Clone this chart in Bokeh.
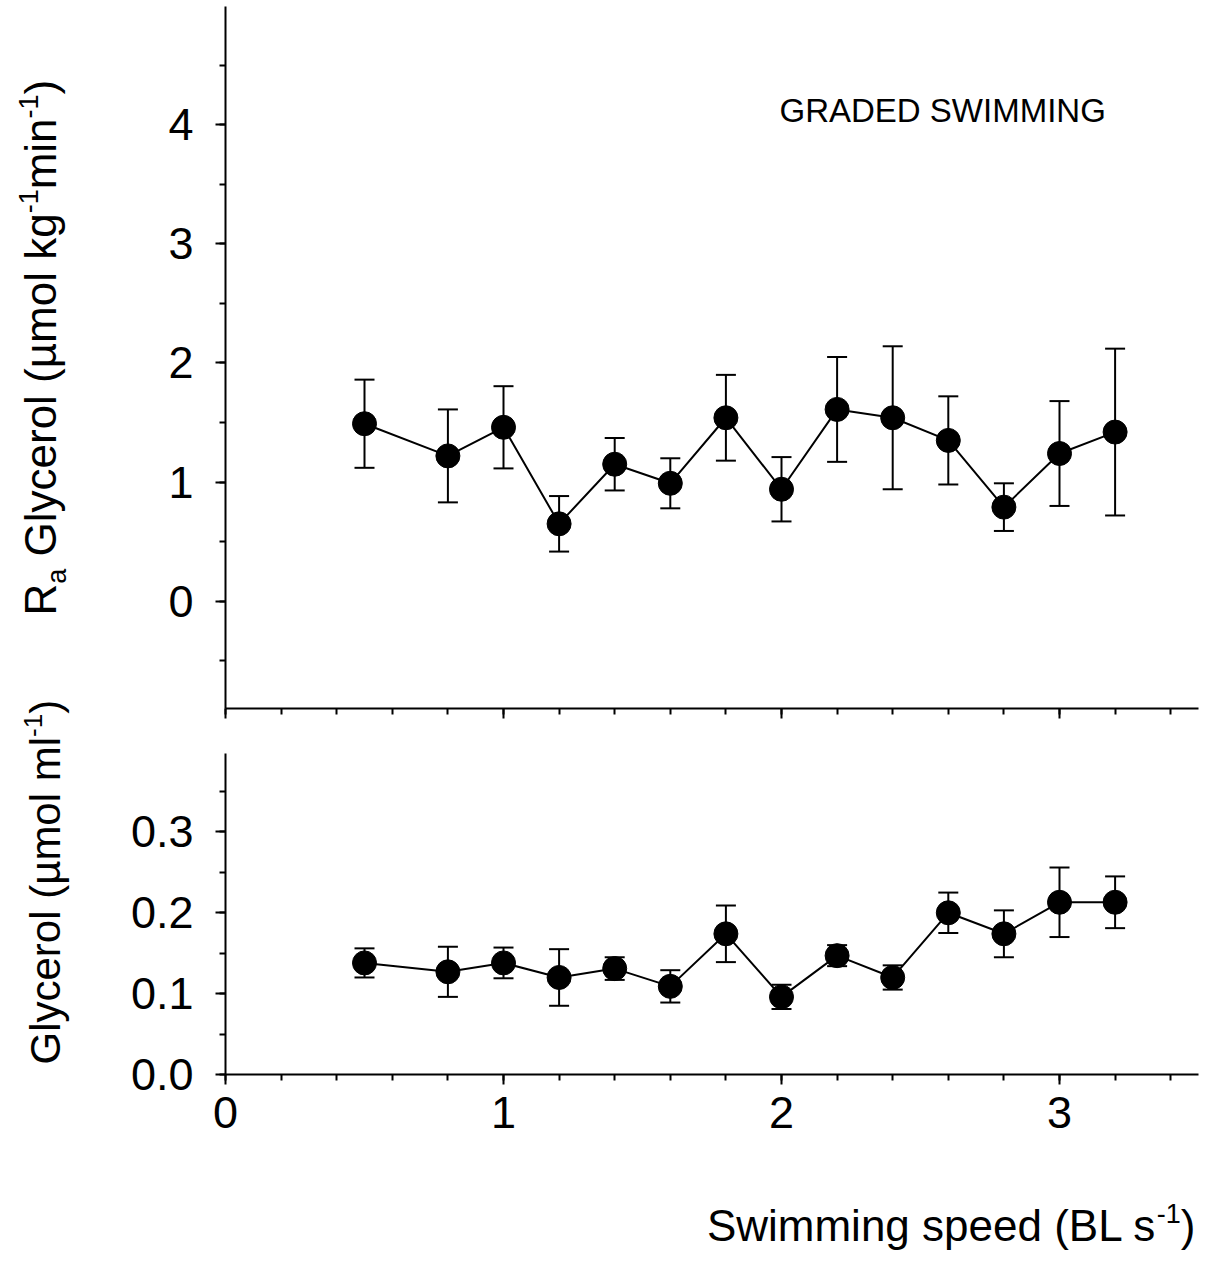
import numpy as np
from bokeh.plotting import figure
from bokeh.models import (Range1d, LinearAxis, SingleIntervalTicker, Whisker, TeeHead,
                          ColumnDataSource, Label, PrintfTickFormatter, CustomJSTickFormatter)
from bokeh.embed import file_html
from bokeh.resources import INLINE

# ---------------- data ----------------
speed = [0.5, 0.8, 1.0, 1.2, 1.4, 1.6, 1.8, 2.0, 2.2, 2.4, 2.6, 2.8, 3.0, 3.2]
ra_mean = [1.49, 1.22, 1.46, 0.65, 1.15, 0.99, 1.54, 0.94, 1.61, 1.54, 1.35, 0.79, 1.24, 1.42]
ra_sem = [0.37, 0.39, 0.345, 0.233, 0.22, 0.21, 0.36, 0.27, 0.44, 0.60, 0.37, 0.20, 0.44, 0.70]
gly_mean = [0.138, 0.127, 0.138, 0.120, 0.131, 0.109, 0.174, 0.096, 0.147, 0.120, 0.200, 0.174, 0.213, 0.213]
gly_sem = [0.018, 0.031, 0.019, 0.035, 0.014, 0.020, 0.035, 0.015, 0.013, 0.015, 0.025, 0.029, 0.043, 0.032]

title_text = "GRADED SWIMMING"
x_title = [("Swimming speed (BL s", "n"), ("-1", "sup"), (")", "n")]
top_ylabel = [("R", "n"), ("a", "sub"), (" ", "gap"), ("Glycerol (\u00b5mol kg", "n"), ("-1", "sup"),
              ("min", "n"), ("-1", "sup"), (")", "n")]
bot_ylabel = [("Glycerol (\u00b5mol ml", "n"), ("-1", "sup"), (")", "n")]

# ---------------- geometry (page pixels) ----------------
W, H = 1206, 1261
AX_L, AX_R = 225, 1198                        # x axis extent
X0, X1 = 0.0, 3.5
TOP_LO, TOP_HI = -0.9, 5.0                    # top panel value span
TOP_PT, TOP_PB = 5, 708
BOT_LO, BOT_HI = 0.0, 0.397                   # bottom panel value span
BOT_PT, BOT_PB = 753, 1074

xs = (AX_R - AX_L) / (X1 - X0)
XR0 = X0 - AX_L / xs
XR1 = X1 + (W - AX_R) / xs
ts = (TOP_PB - TOP_PT) / (TOP_HI - TOP_LO)
YR1 = TOP_HI + TOP_PT / ts
YR0 = TOP_HI - (H - TOP_PT) / ts
bs = (BOT_PB - BOT_PT) / (BOT_HI - BOT_LO)
GR0 = BOT_LO - (H - BOT_PB) / bs
GR1 = BOT_LO + BOT_PB / bs

FONT = "Liberation Sans"
F = 45        # tick label size
BLS = 0.4     # baseline correction (fraction of font size)

def px2x(px):
    return XR0 + px / xs

def py2y(py):
    return YR1 - py / ts

AW = {"R": 722, "a": 556, " ": 278, "G": 778, "l": 222, "y": 500, "c": 500, "e": 556, "r": 333,
      "o": 556, "(": 333, ")": 333, "\u00b5": 576, "m": 833, "k": 500, "g": 556, "i": 222,
      "n": 556, "-": 333, "1": 556, "S": 667, "w": 722, "p": 556, "d": 556, "B": 667, "L": 556,
      "s": 500}

def tw(t, size):
    return sum(AW.get(c, 556) for c in t) / 1000.0 * size

p = figure(width=W, height=H, x_range=Range1d(XR0, XR1), y_range=Range1d(YR0, YR1),
           x_axis_type=None, y_axis_type=None, output_backend="svg", toolbar_location=None,
           min_border=0)
p.extra_y_ranges = {"gly": Range1d(GR0, GR1)}
p.outline_line_color = None
p.background_fill_color = "white"
p.border_fill_color = "white"

def style(ax, standoff):
    ax.axis_line_width = 2
    ax.axis_line_color = "black"
    ax.major_tick_line_width = 2
    ax.minor_tick_line_width = 2
    ax.major_tick_line_color = "black"
    ax.minor_tick_line_color = "black"
    ax.major_tick_in = 0
    ax.minor_tick_in = 0
    ax.major_tick_out = 10
    ax.minor_tick_out = 6
    ax.major_label_text_font = FONT
    ax.major_label_text_font_size = f"{F}px"
    ax.major_label_text_color = "black"
    ax.major_label_standoff = standoff

ay_top = LinearAxis(bounds=(TOP_LO, TOP_HI - 0.01), fixed_location=X0,
                    ticker=SingleIntervalTicker(interval=1, num_minor_ticks=2))
style(ay_top, 22)
p.add_layout(ay_top, "left")

ay_bot = LinearAxis(y_range_name="gly", bounds=(BOT_LO, BOT_HI), fixed_location=X0,
                    ticker=SingleIntervalTicker(interval=0.1, num_minor_ticks=2),
                    formatter=PrintfTickFormatter(format="%.1f"))
style(ay_bot, 22)
p.add_layout(ay_bot, "left")

ax_bot = LinearAxis(y_range_name="gly", bounds=(X0, X1), fixed_location=BOT_LO,
                    ticker=SingleIntervalTicker(interval=1, num_minor_ticks=5))
style(ax_bot, 12)
p.add_layout(ax_bot, "below")

ax_top = LinearAxis(bounds=(X0, X1), fixed_location=TOP_LO,
                    ticker=SingleIntervalTicker(interval=1, num_minor_ticks=5),
                    formatter=CustomJSTickFormatter(code="return ''"))
style(ax_top, 0)
p.add_layout(ax_top, "below")

# ---------------- data marks ----------------
ra = np.array(ra_mean); ras = np.array(ra_sem)
gl = np.array(gly_mean); gls = np.array(gly_sem)
src_ra = ColumnDataSource(dict(x=speed, y=ra, upper=ra + ras, lower=ra - ras))
src_gl = ColumnDataSource(dict(x=speed, y=gl, upper=gl + gls, lower=gl - gls))

for src, rn in ((src_ra, "default"), (src_gl, "gly")):
    p.line("x", "y", source=src, y_range_name=rn, line_color="black", line_width=2)
    p.add_layout(Whisker(base="x", upper="upper", lower="lower", source=src, y_range_name=rn,
                         line_color="black", line_width=2, level="glyph",
                         upper_head=TeeHead(size=20, line_width=2, line_color="black"),
                         lower_head=TeeHead(size=20, line_width=2, line_color="black")))
    p.scatter("x", "y", source=src, y_range_name=rn, size=24, fill_color="black", line_color="black")

# ---------------- texts ----------------
p.add_layout(Label(x=px2x(779), y=py2y(123 - BLS * 33), text=title_text, text_font=FONT,
                   text_font_size="33px", text_color="black",
                   text_align="left", text_baseline="alphabetic"))

def size_off(kind, main, small):
    if kind in ("n", "gap"):
        return main, 0
    return small, (9 if kind == "sub" else -19)

# x axis title, composed from its right end
cur = 1195
for t, kind in reversed(x_title):
    s, off = size_off(kind, 44, 27)
    p.add_layout(Label(x=px2x(cur), y=py2y(1243 + off - BLS * s), text=t, text_font=FONT,
                       text_font_size=f"{s}px", text_color="black",
                       text_align="right", text_baseline="alphabetic"))
    cur -= tw(t, s)

def vlabel(parts, base_x, start_y, main, small):
    cur = start_y
    for t, kind in parts:
        s, off = size_off(kind, main, small)
        if kind != "gap":
            p.add_layout(Label(x=px2x(base_x + off - BLS * s), y=py2y(cur), text=t, text_font=FONT,
                               text_font_size=f"{s}px", text_color="black", angle=np.pi / 2,
                               text_align="left", text_baseline="alphabetic"))
        cur -= tw(t, s)

vlabel(top_ylabel, 58, 615, 44, 27)
vlabel(bot_ylabel, 62, 1064, 42, 26)

open("out.html", "w").write(file_html(p, INLINE))
